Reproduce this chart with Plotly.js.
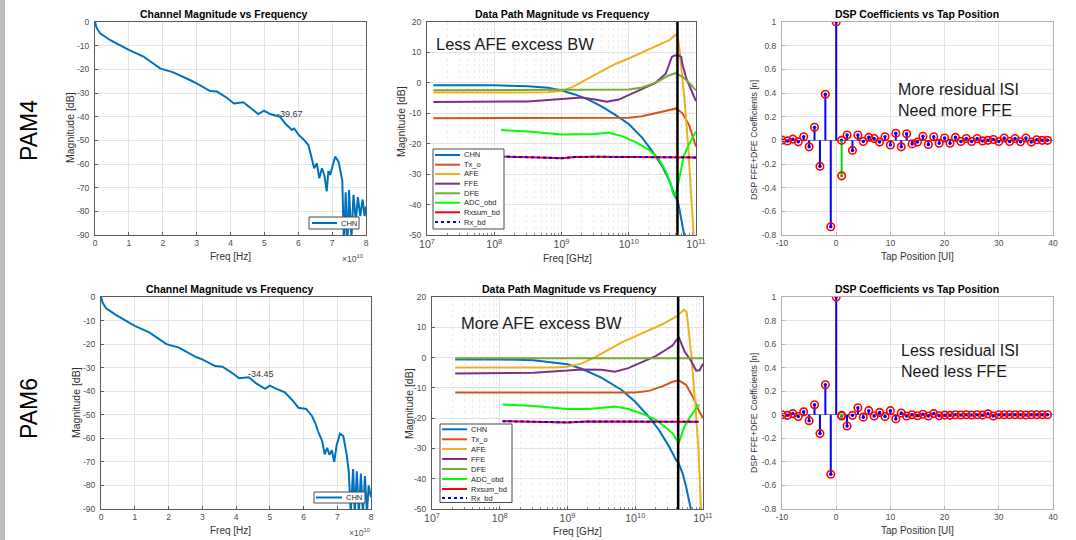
<!DOCTYPE html>
<html>
<head>
<meta charset="utf-8">
<script src="https://cdn.plot.ly/plotly-3.0.1.min.js"></script>
<style>html,body{margin:0;padding:0;background:#fff;}#chart{width:1076px;height:540px;}</style>
</head>
<body>
<div id="chart"></div>
<script>
// ---------------- DATA ----------------
// Channel magnitude (left column), frequency in Hz, magnitude in dB
const chnLinF_pam4 = [0, 0.05e10, 0.15e10, 0.44e10, 1.0e10, 1.43e10, 1.92e10, 2.31e10, 2.8e10, 3.0e10, 3.4e10, 3.6e10, 3.89e10, 4.1e10, 4.38e10, 4.58e10, 4.82e10, 4.99e10, 5.17e10, 5.46e10, 5.61e10, 5.81e10, 5.88e10, 6.0e10, 6.15e10, 6.3e10, 6.4e10, 6.47e10, 6.55e10, 6.62e10, 6.7e10, 6.77e10, 6.84e10, 6.89e10, 6.94e10, 7.09e10, 7.19e10, 7.3e10, 7.35e10, 7.4e10, 7.45e10, 7.5e10, 7.57e10, 7.63e10, 7.7e10, 7.76e10, 7.83e10, 7.9e10, 7.96e10, 8.0e10];
const chnLinV_pam4 = [0, -2.5, -4.8, -7.6, -11.8, -14.6, -19.6, -21.3, -24.5, -25.9, -29.2, -29.4, -32, -34.4, -33.9, -36.2, -38.9, -37.5, -38.9, -40, -42.8, -45.6, -45, -47.5, -49.5, -52, -57.6, -61.8, -59.7, -66, -61.8, -64.6, -71.6, -63, -64.6, -56.9, -59, -67, -95, -72, -95, -71, -92, -73, -84, -74, -82, -75, -82, -78];
const chnLinF_pam6 = [0, 0.05e10, 0.15e10, 0.44e10, 1.0e10, 1.43e10, 1.94e10, 2.31e10, 2.83e10, 3.0e10, 3.38e10, 3.6e10, 3.89e10, 4.09e10, 4.38e10, 4.6e10, 4.86e10, 5.0e10, 5.2e10, 5.45e10, 5.65e10, 5.85e10, 5.99e10, 6.08e10, 6.25e10, 6.35e10, 6.43e10, 6.55e10, 6.63e10, 6.7e10, 6.77e10, 6.84e10, 6.91e10, 6.98e10, 7.08e10, 7.18e10, 7.28e10, 7.34e10, 7.4e10, 7.47e10, 7.52e10, 7.58e10, 7.64e10, 7.7e10, 7.76e10, 7.82e10, 7.88e10, 7.93e10, 8.0e10];
const chnLinV_pam6 = [0, -2.5, -4.8, -7.6, -12.3, -15, -20, -21.5, -25.6, -26.5, -29.3, -29.6, -32.3, -34.5, -34.1, -36.7, -39, -37.6, -39, -40.5, -43.5, -47, -47.3, -47.5, -50.5, -53.5, -57, -61, -66.8, -64, -67, -65, -70, -63, -58, -59, -67, -74, -92, -73, -92, -74, -92, -75, -92, -76, -92, -80, -85];
const tipF = [5.3e10, 4.3e10];
const tipV = [-39.67, -34.45];

// Data path (middle column), PAM4
const chnF4 = [1.24e7, 1e8, 3.16e8, 6.3e8, 1e9, 1.58e9, 2.5e9, 4e9, 6.3e9, 1e10, 1.58e10, 2.24e10, 3.16e10, 4e10, 4.8e10, 5.25e10, 5.5e10, 6.03e10, 6.6e10, 7.08e10];
const chnV4 = [-0.8, -0.8, -1.1, -1.6, -2.5, -3.8, -5.5, -7.8, -10.5, -13.5, -18, -22.5, -27.5, -32, -37, -38.5, -40, -45, -50, -53];
const txF4 = [1.24e7, 1e8, 1e9, 1e10, 1.58e10, 2.5e10, 4e10, 5.1e10, 6.3e10, 7.94e10, 1e11];
const txV4 = [-11.6, -11.6, -11.6, -11.5, -11, -10, -8.8, -8.4, -10, -14, -21];
const afeF4 = [1.24e7, 1e8, 6.3e8, 1e9, 1.58e9, 2.5e9, 4e9, 6.3e9, 1e10, 1.58e10, 2.5e10, 4e10, 5.1e10, 5.37e10, 5.75e10, 6.3e10, 6.9e10, 7.6e10, 8.3e10, 9.1e10, 9.3e10];
const afeV4 = [-3.2, -3.2, -3.1, -2.7, -1, 1.5, 4, 6.2, 8, 10, 12, 14, 16, 15, 10, 2, -8, -20, -32, -48, -52];
const ffeF4 = [1.24e7, 3.16e8, 1e9, 2e9, 3.16e9, 4.7e9, 7.1e9, 1e10, 1.58e10, 2.5e10, 3.55e10, 4.17e10, 4.37e10, 4.8e10, 5.5e10, 6.03e10, 6.3e10, 7.24e10, 8.7e10, 1e11];
const ffeV4 = [-6.3, -6.1, -5.3, -4.8, -5.5, -6.2, -5.5, -4, -2, 0, 3, 7, 8.5, 9, 9, 8.5, 6, 1.2, -3, -6];
const dfeF4 = [1.24e7, 1e9, 1e10, 1.58e10, 2.5e10, 4e10, 5e10, 6.3e10, 7.94e10, 1e11];
const dfeV4 = [-2.4, -2.3, -2.2, -1.5, 0, 2.5, 3.2, 2, 0, -2.5];
const adcF4 = [1.26e8, 3.16e8, 1e9, 2e9, 3.16e9, 5e9, 7.9e9, 1.26e10, 2e10, 2.8e10, 3.55e10, 4.17e10, 4.57e10, 5e10, 5.75e10, 6.6e10, 7.94e10, 1e11];
const adcV4 = [-15.5, -16, -17, -17, -16.8, -16.3, -17.5, -19.5, -22, -25, -29, -33, -36.5, -37, -30, -24, -20, -16];
const rxsumF4 = [1.26e8, 3.16e8, 6.3e8, 1e9, 1.58e9, 3.16e9, 1e10, 3.16e10, 1e11];
const rxsumV4 = [-24.2, -24.3, -24.6, -24.8, -24.4, -24.3, -24.4, -24.4, -24.5];
const rxF4 = [1.26e8, 3.16e8, 6.3e8, 1e9, 1.58e9, 3.16e9, 1e10, 3.16e10, 1e11];
const rxV4 = [-24.2, -24.3, -24.6, -24.8, -24.4, -24.3, -24.4, -24.4, -24.5];
const nyqF4 = [5.3e10];

// Data path (middle column), PAM6
const chnF6 = [2.2e7, 1e8, 3.16e8, 1e9, 1.58e9, 3.16e9, 6.3e9, 1e10, 1.58e10, 2.24e10, 3.16e10, 4e10, 4.37e10, 5e10, 5.62e10, 6.3e10, 6.6e10, 7.08e10];
const chnV6 = [-0.6, -0.6, -0.9, -2.2, -3.6, -6.6, -10.7, -14.6, -19.5, -23.9, -29.4, -33.8, -34.9, -38.2, -42.6, -48, -50, -53];
const txF6 = [2.2e7, 1e9, 1e10, 1.58e10, 2.5e10, 3.55e10, 4.37e10, 5.62e10, 7.08e10, 8.9e10, 1e11];
const txV6 = [-11.5, -11.5, -11.5, -11, -9.5, -8, -7.5, -9, -13, -18, -20];
const afeF6 = [2.2e7, 6.3e8, 1e9, 1.58e9, 2.5e9, 4e9, 6.3e9, 1e10, 1.58e10, 2.5e10, 4e10, 5.25e10, 5.75e10, 6.03e10, 6.76e10, 7.6e10, 8.5e10, 9.3e10, 9.8e10];
const afeV6 = [-3.3, -3.3, -3, -2, 0, 2.5, 5, 7, 9, 11, 13.5, 15.8, 15, 11, 0.2, -14, -29, -49, -55];
const ffeF6 = [2.2e7, 3.16e8, 1e9, 1.58e9, 3.16e9, 5e9, 7.9e9, 1.26e10, 2e10, 2.8e10, 3.55e10, 4.37e10, 5.37e10, 6.6e10, 7.94e10, 8.9e10, 1e11];
const ffeV6 = [-5.3, -5, -4.3, -3.9, -4, -4.7, -3.5, -1.5, 0.5, 2.5, 4, 6.8, 1.9, -0.9, -4.3, -4.2, -2];
const dfeF6 = [2.2e7, 1e9, 1e10, 1e11];
const dfeV6 = [-0.2, -0.2, -0.2, -0.2];
const adcF6 = [1.1e8, 3.16e8, 1e9, 2e9, 5e9, 7.9e9, 1.26e10, 2e10, 2.8e10, 3.55e10, 4.17e10, 4.37e10, 4.57e10, 5.25e10, 6.3e10, 7.94e10, 8.7e10];
const adcV6 = [-15.5, -16, -17, -17, -16.2, -17, -18.5, -20.5, -23, -25, -27.5, -28.3, -27, -23, -20, -16.5, -15.5];
const rxsumF6 = [1.1e8, 3.16e8, 6.3e8, 1e9, 2e9, 1e10, 8.7e10];
const rxsumV6 = [-21, -21.2, -21.5, -21.4, -21.1, -21.2, -21.2];
const rxF6 = [1.1e8, 3.16e8, 6.3e8, 1e9, 2e9, 1e10, 8.7e10];
const rxV6 = [-21, -21.2, -21.5, -21.4, -21.1, -21.2, -21.2];
const nyqF6 = [4.3e10];

// DSP coefficients (right column)
const taps = [-10,-9,-8,-7,-6,-5,-4,-3,-2,-1,0,1,2,3,4,5,6,7,8,9,10,11,12,13,14,15,16,17,18,19,20,21,22,23,24,25,26,27,28,29,30,31,32,33,34,35,36,37,38,39];
const ffe4 = [0.002,-0.005,0.01,-0.013,0.03,-0.055,0.11,-0.22,0.39,-0.73,1.0,0.0,0.045,-0.085,0.045,-0.01,0.025,0.015,-0.015,0.03,-0.04,0.06,-0.055,0.055,-0.03,-0.015,0.035,-0.035,0.03,-0.025,0.02,-0.025,0.025,-0.01,0.015,-0.01,0.015,-0.005,0.0,0.007,-0.01,0.02,-0.01,0.015,-0.012,0.02,-0.015,0.005,0.0,0.0];
const dfeTaps4 = [1];
const dfe4 = [-0.3];
const ffe6 = [0.0,-0.005,0.01,-0.015,0.025,-0.05,0.085,-0.16,0.255,-0.505,1.0,-0.01,-0.095,-0.005,0.06,-0.02,0.035,-0.01,0.02,-0.015,0.035,-0.035,0.015,-0.01,0.0,-0.008,0.005,-0.01,0.01,-0.008,-0.003,-0.005,0.0,-0.002,0.0,-0.002,0.0,-0.003,0.008,-0.01,0.0,0.0,0.0,0.0,0.0,-0.002,0.0,0.0,0.0,0.0];
const dfeTaps6 = [1];
const dfe6 = [-0.005];

// Legend / series metadata
const pathNames = ['CHN','Tx_o','AFE','FFE','DFE','ADC_obd','Rxsum_bd','Rx_bd'];
const pathColors = ['#0072BD','#D95319','#EDB120','#7E2F8E','#77AC30','#00FF00','#FF0000','#0000FF'];
const pathDash = ['solid','solid','solid','solid','solid','solid','solid','dot'];

// ---------------- HELPERS ----------------
const W = 1076, H = 540;
const px = v => v / W;
const py = v => 1 - v / H;
const FONT = '"Liberation Sans", Arial, Helvetica, sans-serif';
const traces = [];

function line(x, y, xa, ya, color, width, dash) {
  traces.push({type:'scatter', mode:'lines', x:x, y:y, xaxis:xa, yaxis:ya,
    line:{color:color, width:width, dash:dash||'solid'}, showlegend:false, hoverinfo:'skip'});
}
function stem(tp, vals, xa, ya, color) {
  const x = [], y = [];
  tp.forEach((t,i)=>{ x.push(t,t,null); y.push(0, vals[i], null); });
  traces.push({type:'scatter', mode:'lines', x:x, y:y, xaxis:xa, yaxis:ya,
    line:{color:color, width:2}, showlegend:false, hoverinfo:'skip'});
  traces.push({type:'scatter', mode:'markers', x:tp, y:vals, xaxis:xa, yaxis:ya,
    marker:{color:color, size:3.5}, showlegend:false, hoverinfo:'skip'});
}
function circles(tp, vals, xa, ya) {
  traces.push({type:'scatter', mode:'markers', x:tp, y:vals, xaxis:xa, yaxis:ya,
    marker:{symbol:'circle-open', color:'#FF0000', size:7.5, line:{width:1.6, color:'#FF0000'}},
    showlegend:false, hoverinfo:'skip'});
}

// Left column
line(chnLinF_pam4, chnLinV_pam4, 'x', 'y', pathColors[0], 2);
line(chnLinF_pam6, chnLinV_pam6, 'x4', 'y4', pathColors[0], 2);

// Middle column
const sets4 = [[chnF4,chnV4],[txF4,txV4],[afeF4,afeV4],[ffeF4,ffeV4],[dfeF4,dfeV4],[adcF4,adcV4],[rxsumF4,rxsumV4],[rxF4,rxV4]];
const sets6 = [[chnF6,chnV6],[txF6,txV6],[afeF6,afeV6],[ffeF6,ffeV6],[dfeF6,dfeV6],[adcF6,adcV6],[rxsumF6,rxsumV6],[rxF6,rxV6]];
sets4.forEach((s,i)=> line(s[0], s[1], 'x2', 'y2', pathColors[i], 2, pathDash[i]));
sets6.forEach((s,i)=> line(s[0], s[1], 'x5', 'y5', pathColors[i], 2, pathDash[i]));

// Right column
stem(taps, ffe4, 'x3', 'y3', '#0000FF');
stem(dfeTaps4, dfe4, 'x3', 'y3', '#00DD00');
circles(taps, ffe4, 'x3', 'y3');
circles(dfeTaps4, dfe4, 'x3', 'y3');
stem(taps, ffe6, 'x6', 'y6', '#0000FF');
stem(dfeTaps6, dfe6, 'x6', 'y6', '#00DD00');
circles(taps, ffe6, 'x6', 'y6');
circles(dfeTaps6, dfe6, 'x6', 'y6');

// ---------------- AXES ----------------
const tickFont = {family:FONT, size:8.5, color:'#4d4d4d'};
function baseAxis(domain, anchor, extra, light) {
  return Object.assign({
    domain: domain, anchor: anchor, showgrid:true, gridcolor:'#e3e3e3', gridwidth:1,
    showline:true, mirror:true, linecolor: light ? '#b0b0b0' : '#5a5a5a', linewidth:1,
    ticks:'inside', ticklen:3, tickcolor: light ? '#b0b0b0' : '#5a5a5a', tickfont:tickFont,
    zeroline:false, fixedrange:true, ticklabelstandoff:3
  }, extra);
}
const linTickV = [0,1e10,2e10,3e10,4e10,5e10,6e10,7e10,8e10];
const linTickT = ['0','1','2','3','4','5','6','7','8'];
const magTickV = [0,-10,-20,-30,-40,-50,-60,-70,-80,-90];
const magTickT = ['0','-10','-20','-30','-40','-50','-60','-70','-80','-90'];
const dpTickV = [20,10,0,-10,-20,-30,-40,-50];
const dpTickT = ['20','10','0','-10','-20','-30','-40','-50'];
const coTickV = [1,0.8,0.6,0.4,0.2,0,-0.2,-0.4,-0.6,-0.8];
const coTickT = ['1','0.8','0.6','0.4','0.2','0','-0.2','-0.4','-0.6','-0.8'];
const tapTickV = [-10,0,10,20,30,40];
const tapTickT = ['-10','0','10','20','30','40'];

const topY = [py(235), py(22)];
const botY = [py(509), py(297)];
const logMinor = {showgrid:true, gridcolor:'#ececec', griddash:'dot', gridwidth:1, ticks:'inside', ticklen:2, tickcolor:'#8a8a8a'};

const layout = {
  width: W, height: H, autosize:false,
  margin:{l:0,r:0,t:0,b:0}, paper_bgcolor:'#ffffff', plot_bgcolor:'#ffffff',
  font:{family:FONT}, showlegend:false,
  xaxis: baseAxis([px(95), px(366)], 'y', {range:[0,8e10], tickmode:'array', tickvals:linTickV, ticktext:linTickT, ticklabelstandoff:0}),
  yaxis: baseAxis(topY, 'x', {range:[-90,0], tickmode:'array', tickvals:magTickV, ticktext:magTickT}),
  xaxis2: baseAxis([px(427), px(696)], 'y2', {type:'log', range:[7,11], dtick:1, exponentformat:'power', minor:logMinor, ticklabelstandoff:0}),
  yaxis2: baseAxis(topY, 'x2', {range:[-50,20], tickmode:'array', tickvals:dpTickV, ticktext:dpTickT}),
  xaxis3: baseAxis([px(782), px(1053)], 'y3', {range:[-10,40], tickmode:'array', tickvals:tapTickV, ticktext:tapTickT, ticklabelstandoff:0}, true),
  yaxis3: baseAxis(topY, 'x3', {range:[-0.8,1], tickmode:'array', tickvals:coTickV, ticktext:coTickT, zeroline:true, zerolinecolor:'#8c8c8c', zerolinewidth:1.2}, true),
  xaxis4: baseAxis([px(101), px(371)], 'y4', {range:[0,8e10], tickmode:'array', tickvals:linTickV, ticktext:linTickT, ticklabelstandoff:0}),
  yaxis4: baseAxis(botY, 'x4', {range:[-90,0], tickmode:'array', tickvals:magTickV, ticktext:magTickT}),
  xaxis5: baseAxis([px(432), px(703)], 'y5', {type:'log', range:[7,11], dtick:1, exponentformat:'power', minor:logMinor, ticklabelstandoff:0}),
  yaxis5: baseAxis(botY, 'x5', {range:[-50,20], tickmode:'array', tickvals:dpTickV, ticktext:dpTickT}),
  xaxis6: baseAxis([px(782), px(1053)], 'y6', {range:[-10,40], tickmode:'array', tickvals:tapTickV, ticktext:tapTickT, ticklabelstandoff:0}, true),
  yaxis6: baseAxis(botY, 'x6', {range:[-0.8,1], tickmode:'array', tickvals:coTickV, ticktext:coTickT, zeroline:true, zerolinecolor:'#8c8c8c', zerolinewidth:1.2}, true),
  shapes: [],
  annotations: []
};

// Nyquist markers (vertical black lines)
layout.shapes.push({type:'line', xref:'x2', yref:'y2 domain', x0:nyqF4[0], x1:nyqF4[0], y0:0, y1:1, line:{color:'#000', width:2.5}});
layout.shapes.push({type:'line', xref:'x5', yref:'y5 domain', x0:nyqF6[0], x1:nyqF6[0], y0:0, y1:1, line:{color:'#000', width:2.5}});

// Left grey strip
layout.shapes.push({type:'rect', xref:'paper', yref:'paper', x0:0, x1:px(5), y0:0, y1:1, line:{width:0}, fillcolor:'#bdbdbd', layer:'below'});

function ann(text, x, y, size, opts) {
  layout.annotations.push(Object.assign({text:text, x:px(x), y:py(y), xref:'paper', yref:'paper',
    showarrow:false, xanchor:'center', yanchor:'middle', font:{family:FONT, size:size, color:'#262626'}}, opts||{}));
}
// Titles
const titleFont = {family:FONT, size:10.5, color:'#000'};
ann('<b>Channel Magnitude vs Frequency</b>', 224, 14, 10.5, {font:titleFont});
ann('<b>Data Path Magnitude vs Frequency</b>', 562, 14, 10.5, {font:titleFont});
ann('<b>DSP Coefficients vs Tap Position</b>', 917, 14, 10.5, {font:titleFont});
ann('<b>Channel Magnitude vs Frequency</b>', 230, 289, 10.5, {font:titleFont});
ann('<b>Data Path Magnitude vs Frequency</b>', 569, 289, 10.5, {font:titleFont});
ann('<b>DSP Coefficients vs Tap Position</b>', 917, 289, 10.5, {font:titleFont});

// Axis titles
const labFont = {family:FONT, size:10, color:'#333'};
const ylabFont = {family:FONT, size:10.5, color:'#333'};
const dspFont = {family:FONT, size:8.8, color:'#333'};
ann('Magnitude [dB]', 70, 128, 10.5, {textangle:-90, font:ylabFont});
ann('Freq [Hz]', 230, 257, 10, {font:labFont});
ann('\u00d710<sup>10</sup>', 353, 258, 8.5, {font:{family:FONT, size:8.5, color:'#4d4d4d'}});
ann('Magnitude [dB]', 401, 122, 10.5, {textangle:-90, font:ylabFont});
ann('Freq [GHz]', 567, 258, 10, {font:labFont});
ann('DSP FFE+DFE Coefficients [n]', 754, 140, 8.8, {textangle:-90, font:dspFont});
ann('Tap Position [UI]', 917, 256, 10, {font:labFont});
ann('Magnitude [dB]', 76, 403, 10.5, {textangle:-90, font:ylabFont});
ann('Freq [Hz]', 230, 530, 10, {font:labFont});
ann('\u00d710<sup>10</sup>', 360, 532, 8.5, {font:{family:FONT, size:8.5, color:'#4d4d4d'}});
ann('Magnitude [dB]', 409, 404, 10.5, {textangle:-90, font:ylabFont});
ann('Freq [GHz]', 577, 531, 10, {font:labFont});
ann('DSP FFE+DFE Coefficients [n]', 754, 413, 8.8, {textangle:-90, font:dspFont});
ann('Tap Position [UI]', 917, 530, 10, {font:labFont});

// Data tips on channel plots
layout.annotations.push({text:String(tipV[0]), x:tipF[0], y:tipV[0], xref:'x', yref:'y', showarrow:false,
  xanchor:'left', yanchor:'middle', yshift:2, font:{family:FONT, size:9, color:'#333'}});
layout.annotations.push({text:String(tipV[1]), x:tipF[1], y:tipV[1], xref:'x4', yref:'y4', showarrow:false,
  xanchor:'left', yanchor:'middle', yshift:4, font:{family:FONT, size:9, color:'#333'}});

// Big side labels and comments
ann('PAM4', 29, 131, 23, {textangle:-90, font:{family:FONT, size:23, color:'#000'}});
ann('PAM6', 29, 409, 23, {textangle:-90, font:{family:FONT, size:23, color:'#000'}});
ann('Less AFE excess BW', 434, 44, 16.5, {xanchor:'left', font:{family:FONT, size:16.5, color:'#1a1a1a'}});
ann('More AFE excess BW', 459, 323, 16.5, {xanchor:'left', font:{family:FONT, size:16.5, color:'#1a1a1a'}});
ann('More residual ISI<br>Need more FFE', 896, 100, 16, {xanchor:'left', align:'left', font:{family:FONT, size:16, color:'#1a1a1a'}});
ann('Less residual ISI<br>Need less FFE', 899, 361, 16, {xanchor:'left', align:'left', font:{family:FONT, size:16, color:'#1a1a1a'}});

// Manual legends
function legendBox(x0, y0, x1, y1, rows, lineX0, lineX1, textX, names, colors, dashes) {
  layout.shapes.push({type:'rect', xref:'paper', yref:'paper', x0:px(x0), x1:px(x1), y0:py(y1), y1:py(y0),
    fillcolor:'#ffffff', line:{color:'#4a4a4a', width:1}});
  names.forEach((n,i)=>{
    layout.shapes.push({type:'line', xref:'paper', yref:'paper', x0:px(lineX0), x1:px(lineX1), y0:py(rows[i]), y1:py(rows[i]),
      line:{color:colors[i], width:2, dash:dashes[i]}});
    layout.annotations.push({text:n, x:px(textX), y:py(rows[i]), xref:'paper', yref:'paper', showarrow:false,
      xanchor:'left', yanchor:'middle', font:{family:FONT, size:7.5, color:'#262626'}});
  });
}
legendBox(309, 217, 359, 229, [223], 312, 337, 339, ['CHN'], [pathColors[0]], ['solid']);
legendBox(314, 492, 365, 503, [497.5], 316, 342, 344, ['CHN'], [pathColors[0]], ['solid']);
legendBox(433, 149, 504, 229, [155, 164.7, 174, 183.7, 193.3, 202.7, 212.3, 222], 435, 460, 462, pathNames, pathColors, pathDash);
legendBox(440, 424, 512, 502.5, [429.3, 439.3, 449, 459, 469, 479, 489, 498], 442, 467, 469, pathNames, pathColors, pathDash);

Plotly.newPlot('chart', traces, layout, {staticPlot:true, displayModeBar:false});
</script>
</body>
</html>
